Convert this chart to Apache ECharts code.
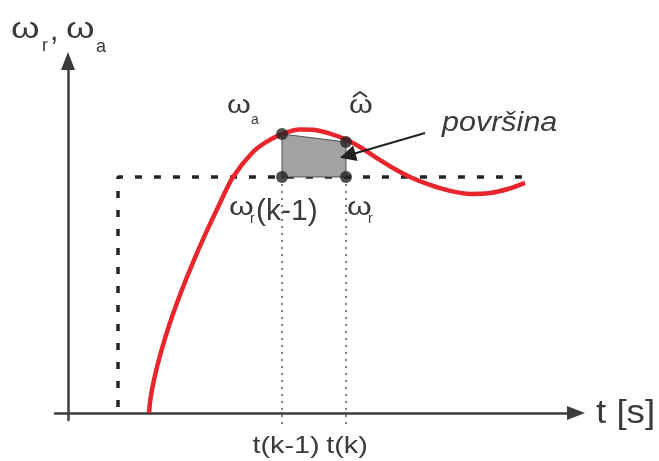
<!DOCTYPE html>
<html><head><meta charset="utf-8">
<script src="https://cdn.jsdelivr.net/npm/echarts@6/dist/echarts.min.js"></script>
<style>html,body{margin:0;padding:0;background:#fff}#c{width:659px;height:461px}</style>
</head><body><div id="c"></div>
<script>
// time axis (arbitrary units), angular speed (1 = reference)
const curveT = [8.1, 8.26, 8.64, 9.27, 10.19, 11.27, 12.48, 13.79, 15.2, 16.5, 18.5, 20.0, 21.4, 23.2, 24.7, 26.2, 27.8, 29.2, 30.7, 32.5, 34.2, 36.2, 38.2, 40.2, 42.2, 44.0, 45.7];
const curveW = [0.0, 0.064, 0.148, 0.254, 0.381, 0.508, 0.636, 0.763, 0.890, 1.0, 1.106, 1.153, 1.182, 1.201, 1.199, 1.184, 1.159, 1.127, 1.085, 1.038, 1.0, 0.966, 0.941, 0.928, 0.932, 0.949, 0.975];
const stepT = [5.0, 5.0, 45.7];
const stepW = [0.025, 1.0, 1.0];
const tK1 = 21.4, tK = 27.8;
const omegaA = 1.182, omegaHat = 1.148, omegaRef = 1.0;
const dropBottom = -0.05;
const arrowFrom = [35.7, 1.186], arrowTo = [27.97, 1.091];
const labels = { yTitle: ['ω', 'r', ',', 'ω', 'a'], xTitle: 't [s]', tk1: 't(k-1)', tk: 't(k)', area: 'površina', k1: '(k-1)' };

const chart = echarts.init(document.getElementById('c'), null, {renderer: 'canvas'});
const AX = '#3c3c3c', TXT = '#3a3a3a', DARK = '#232323';
const axisCommon = {
  type: 'value',
  axisLine: {onZero: true, lineStyle: {color: AX, width: 2.5}, symbol: ['none', 'triangle'], symbolSize: [14, 18]},
  axisTick: {show: false}, axisLabel: {show: false}, splitLine: {show: false}
};
chart.setOption({
  animation: false,
  grid: {left: 55, top: 61, width: 521, height: 359},
  xAxis: Object.assign({min: -1.3, max: 50.8}, axisCommon),
  yAxis: Object.assign({min: -0.03, max: 1.4915}, axisCommon),
  series: [
    {type: 'line', data: stepT.map((t, i) => [t, stepW[i]]), showSymbol: false, z: 2,
     lineStyle: {color: DARK, width: 3.5, type: [7, 12], cap: 'butt'}},
    {type: 'line', data: [[tK1, omegaRef], [tK1, dropBottom]], showSymbol: false, clip: false, z: 1,
     lineStyle: {color: '#555', width: 1.5, type: [2, 5]}},
    {type: 'line', data: [[tK, omegaRef], [tK, dropBottom]], showSymbol: false, clip: false, z: 1,
     lineStyle: {color: '#555', width: 1.5, type: [2, 5]}},
    {type: 'custom', z: 3, data: [[tK1, tK]],
     renderItem: function (params, api) {
       const pts = [[tK1, omegaA], [tK, omegaHat], [tK, omegaRef], [tK1, omegaRef]].map(p => api.coord(p));
       return {type: 'polygon', shape: {points: pts}, style: {fill: '#a2a2a2', stroke: '#505050', lineWidth: 1}};
     }},
    {type: 'line', data: curveT.map((t, i) => [t, curveW[i]]), smooth: 0.3, showSymbol: false, z: 5,
     lineStyle: {color: '#e8262d', width: 4.5}},
    {type: 'lines', coordinateSystem: 'cartesian2d', z: 6, symbol: ['none', 'triangle'], symbolSize: [10, 16],
     lineStyle: {color: DARK, width: 2, opacity: 1}, data: [{coords: [arrowFrom, arrowTo]}]},
    {type: 'scatter', z: 10, symbolSize: 12, itemStyle: {color: DARK},
     data: [[tK1, omegaA], [tK, omegaHat], [tK1, omegaRef], [tK, omegaRef]]}
  ]
});

function px(p) { return chart.convertToPixel({gridIndex: 0}, p); }
function T(x, baseline, s, size, o) {
  o = o || {};
  return {type: 'text', x: x, y: baseline - 0.35 * size, scaleX: o.sx || 1, z: 100,
    style: {text: s, font: (o.italic ? 'italic ' : '') + size + 'px "Liberation Sans", Arial, sans-serif',
      fill: TXT, textAlign: o.align || 'left', textVerticalAlign: 'middle'}};
}
const W = {sx: 1.22};
const pA = px([tK1, omegaA]), pH = px([tK, omegaHat]), pR1 = px([tK1, omegaRef]), pR = px([tK, omegaRef]);
const pAr = px(arrowFrom), pEnd = px([50.8, 0]);
const g = [
  T(11, 40, labels.yTitle[0], 30, W), T(42, 52, labels.yTitle[1], 18), T(50, 42, labels.yTitle[2], 30),
  T(66, 40, labels.yTitle[3], 30, W), T(96, 53, labels.yTitle[4], 18),
  T(pEnd[0] + 20, 426, labels.xTitle, 34, {sx: 1.08}),
  T(pR1[0] + 4, 455, labels.tk1, 24, {align: 'center', sx: 1.2}),
  T(pR[0] + 1, 455, labels.tk, 24, {align: 'center', sx: 1.2}),
  T(pAr[0] + 17, 133, labels.area, 27, {italic: true, sx: 1.13}),
  T(pA[0] - 55, 115, 'ω', 25, W), T(pA[0] - 31, 125, 'a', 14),
  T(pH[0] + 3, 115, 'ω', 25, W),
  {type: 'polyline', z: 100, shape: {points: [[pH[0] + 7, pH[1] - 45], [pH[0] + 14, pH[1] - 50], [pH[0] + 21, pH[1] - 45]]},
   style: {stroke: TXT, lineWidth: 2, fill: null}},
  T(pR1[0] - 53, 217, 'ω', 26, W), T(pR1[0] - 32, 224, 'r', 14), T(pR1[0] - 26, 222, labels.k1, 30),
  T(pR[0] + 1, 217, 'ω', 26, W), T(pR[0] + 22, 224, 'r', 14)
];
chart.setOption({graphic: g});
</script></body></html>
